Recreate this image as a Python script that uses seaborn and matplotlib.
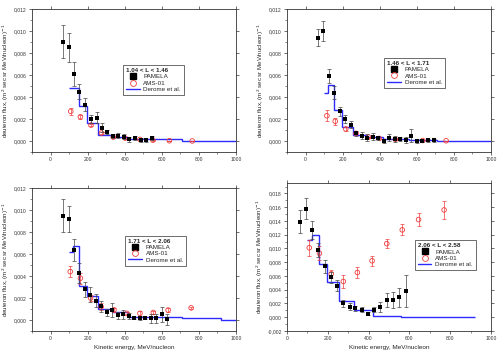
import numpy as np
import matplotlib
matplotlib.use("Agg")
import matplotlib.pyplot as plt
import seaborn as sns
from matplotlib.ticker import FuncFormatter, MultipleLocator
from matplotlib.lines import Line2D

sns.set_style("ticks")
plt.rcParams["font.family"] = ["Liberation Sans", "DejaVu Sans"]

# L-shell bins
titles = ["1.04 < L < 1.46", "1.46 < L < 1.71", "1.71 < L < 2.06", "2.06 < L < 2.58"]

# PAMELA points (energy, flux, error)
pam_e1 = [66, 98, 127, 155, 186, 216, 248, 275, 305, 338, 366, 396, 425, 453, 486, 516, 546]
pam_f1 = [0.0090, 0.0085, 0.0061, 0.0045, 0.0033, 0.0020, 0.0021, 0.0012, 0.0008, 0.00045,
          0.0005, 0.0004, 0.00015, 0.0003, 0.0001, 0.00006, 0.0003]
pam_s1 = [0.0015, 0.0013, 0.0011, 0.0007, 0.0006, 0.0004, 0.0005, 0.0004, 0.0002, 0.0002,
          0.0002, 0.0002, 0.0002, 0.0002, 0.0002, 0.0001, 0.0002]

pam_e2 = [66, 96, 124, 155, 185, 215, 243, 274, 304, 332, 362, 393, 421, 451, 483, 512, 541,
          570, 599, 629, 661, 690]
pam_f2 = [0.0094, 0.0100, 0.0059, 0.0044, 0.0027, 0.0020, 0.0015, 0.0007, 0.0005, 0.0003,
          0.0004, 0.0003, 0.0000, 0.0003, 0.0002, 0.0002, 0.0001, 0.0005, 0.00003, 0.00003,
          0.00006, 0.00006]
pam_s2 = [0.0008, 0.0009, 0.0006, 0.0006, 0.0004, 0.0004, 0.0003, 0.0002, 0.0003, 0.0003,
          0.0003, 0.0002, 0.0002, 0.0003, 0.0003, 0.0002, 0.0003, 0.0006, 0.0002, 0.0001,
          0.0001, 0.0001]

pam_e3 = [65, 97, 126, 156, 186, 214, 244, 273, 303, 333, 362, 392, 422, 450, 480, 510, 541,
          569, 599, 627]
pam_f3 = [0.0095, 0.0092, 0.0064, 0.0043, 0.0028, 0.0023, 0.00175, 0.00123, 0.0007, 0.0009,
          0.00043, 0.0005, 0.00037, 0.00018, 0.0002, 0.00015, 0.00015, 0.00015, 0.0005, 0.00006]
pam_s3 = [0.0015, 0.0012, 0.0010, 0.0009, 0.0007, 0.0007, 0.0006, 0.0005, 0.0003, 0.0006,
          0.0003, 0.0004, 0.0003, 0.0001, 0.0002, 0.0001, 0.0004, 0.0004, 0.0007, 0.0005]

pam_e4 = [63, 94, 124, 154, 185, 216, 246, 276, 307, 335, 367, 397, 428, 458, 489, 519, 550, 582]
pam_f4 = [0.0139, 0.0158, 0.0127, 0.0098, 0.0074, 0.0058, 0.0046, 0.0020, 0.0015, 0.0013,
          0.0011, 0.0005, 0.0011, 0.0015, 0.0025, 0.0025, 0.0029, 0.0038]
pam_s4 = [0.0017, 0.0015, 0.0013, 0.0010, 0.0009, 0.0008, 0.0008, 0.0005, 0.0005, 0.0004,
          0.0004, 0.0002, 0.0004, 0.0007, 0.0010, 0.0011, 0.0014, 0.0023]

# AMS-01 points (energy, flux, error)
ams_e1 = [109, 161, 218, 275, 338, 402, 482, 552, 641, 764]
ams_f1 = [0.0027, 0.0022, 0.00145, 0.00073, 0.00036, 0.00027, 0.00015, 0.00008, 0.00003, 0.00001]
ams_s1 = [0.0003, 0.0002, 0.0001, 0.0001, 0.00005, 0.00005, 0.00005, 0.00003, 0.00002, 0.00001]

ams_e2 = [115, 160, 217, 272, 340, 398, 484, 632, 758]
ams_f2 = [0.0023, 0.0018, 0.0011, 0.0007, 0.00036, 0.00024, 0.00015, 0.00005, 0.00003]
ams_s2 = [0.0005, 0.0003, 0.0002, 0.0001, 0.00005, 0.00005, 0.00005, 0.00002, 0.00001]

ams_e3 = [106, 161, 216, 273, 342, 411, 482, 554, 634, 758]
ams_f3 = [0.0044, 0.0038, 0.0020, 0.0012, 0.00092, 0.0006, 0.0006, 0.00068, 0.0009, 0.0011]
ams_s3 = [0.0005, 0.0005, 0.0003, 0.0003, 0.0002, 0.0001, 0.0002, 0.0001, 0.0002, 0.0001]

ams_e4 = [109, 159, 217, 276, 345, 417, 489, 565, 645, 770]
ams_f4 = [0.0101, 0.0093, 0.0063, 0.0052, 0.0065, 0.0082, 0.0107, 0.0127, 0.0142, 0.0156]
ams_s4 = [0.0012, 0.0010, 0.0006, 0.0010, 0.0008, 0.0007, 0.0007, 0.0008, 0.0010, 0.0013]

# Derome et al. model, step values on shared energy bins
derome_edges = [100, 122, 155, 198, 255, 330, 420, 560, 710, 920, 1000]
derome_v1 = [0.0048, 0.0048, 0.0032, 0.00167, 0.00055, 0.00035, 0.0002, 0.00015, 0.00003, 0.00003]
derome_v2 = [0.0044, 0.0051, 0.0028, 0.0013, 0.00055, 0.0004, 0.0002, 0.0001, 0.00002, 0.00002]
derome_v3 = [0.0062, 0.0067, 0.0031, 0.0022, 0.00098, 0.0007, 0.0003, 0.00025, 0.00015, 0.00003]
derome_v4 = [0.0112, 0.0119, 0.0078, 0.0051, 0.0023, 0.0010, 0.00015, 0.0001, 0.00005]

panels = [
    (pam_e1, pam_f1, pam_s1, ams_e1, ams_f1, ams_s1, derome_v1),
    (pam_e2, pam_f2, pam_s2, ams_e2, ams_f2, ams_s2, derome_v2),
    (pam_e3, pam_f3, pam_s3, ams_e3, ams_f3, ams_s3, derome_v3),
    (pam_e4, pam_f4, pam_s4, ams_e4, ams_f4, ams_s4, derome_v4),
]

rects = [
    [0.064, 0.574, 0.408, 0.401],
    [0.574, 0.574, 0.408, 0.401],
    [0.064, 0.073, 0.408, 0.400],
    [0.574, 0.073, 0.408, 0.414],
]
xlims = [(-100, 1000), (-100, 1000), (-100, 1000), (0, 1000)]
ylims = [(-0.001, 0.012), (-0.001, 0.012), (-0.001, 0.012), (-0.002, 0.0195)]
legend_pos = [(0.43, 0.63), (0.46, 0.68), (0.44, 0.69), (0.61, 0.635)]

blue = "#2b2bff"
red = "#f03c3c"
comma = FuncFormatter(lambda v, p: f"{v:.3f}".replace(".", ","))

fig = plt.figure(figsize=(5, 3.57), dpi=100)

for i, (pe, pf, ps, ae, af, as_, dv) in enumerate(panels):
    ax = fig.add_axes(rects[i])

    ax.stairs(dv, derome_edges[:len(dv) + 1], color=blue, lw=1.0, baseline=None, zorder=2)

    ax.errorbar(ae, af, yerr=as_, fmt="none", ecolor=red, elinewidth=0.5, capsize=1.2,
                capthick=0.5, zorder=3)
    sns.scatterplot(x=ae, y=af, ax=ax, marker="o", s=11, facecolor="none",
                    edgecolor=red, linewidth=0.6, zorder=4)

    ax.errorbar(pe, pf, yerr=ps, fmt="none", ecolor="#444444", elinewidth=0.5, capsize=1.2,
                capthick=0.5, zorder=5)
    sns.scatterplot(x=pe, y=pf, ax=ax, marker="s", s=11, color="black", linewidth=0, zorder=6)

    ax.set_xlim(*xlims[i])
    ax.set_ylim(*ylims[i])
    ax.xaxis.set_major_locator(MultipleLocator(200))
    ax.xaxis.set_minor_locator(MultipleLocator(100))
    ax.yaxis.set_major_locator(MultipleLocator(0.002))
    ax.yaxis.set_minor_locator(MultipleLocator(0.001))
    ax.yaxis.set_major_formatter(comma)
    ax.tick_params(axis="both", which="major", labelsize=3.6, length=2.2, width=0.5,
                   pad=1.5, colors="#333333")
    ax.tick_params(axis="both", which="minor", length=1.2, width=0.4, colors="#333333")
    ax.tick_params(top=True, right=True, which="major", direction="out")
    for sp in ax.spines.values():
        sp.set_linewidth(0.6)
        sp.set_color("#333333")
        sp.set_visible(True)

    ax.set_ylabel("deuteron flux, (m$^2$ sec sr MeV/nucleon)$^{-1}$", fontsize=4.4, labelpad=2)
    if i >= 2:
        ax.set_xlabel("Kinetic energy, MeV/nucleon", fontsize=4.6, labelpad=3)

    handles = [
        Line2D([], [], ls="none", marker="s", color="black", markersize=3.8),
        Line2D([], [], ls="none", marker="o", mfc="none", mec=red, markersize=4.2, mew=0.6),
        Line2D([], [], color=blue, lw=1.0),
    ]
    leg = ax.legend(handles, ["PAMELA", "AMS-01", "Derome et al."], title=titles[i],
                    loc="upper left", bbox_to_anchor=legend_pos[i], fontsize=4.5,
                    title_fontsize=4.5, frameon=True, fancybox=False, edgecolor="#333333",
                    framealpha=1, handlelength=2.2, handletextpad=0.6, borderpad=0.5,
                    labelspacing=0.15)
    leg.get_frame().set_linewidth(0.5)
    leg.get_title().set_fontweight("bold")
    leg._legend_box.align = "left"

fig.savefig("out.png", dpi=100)
